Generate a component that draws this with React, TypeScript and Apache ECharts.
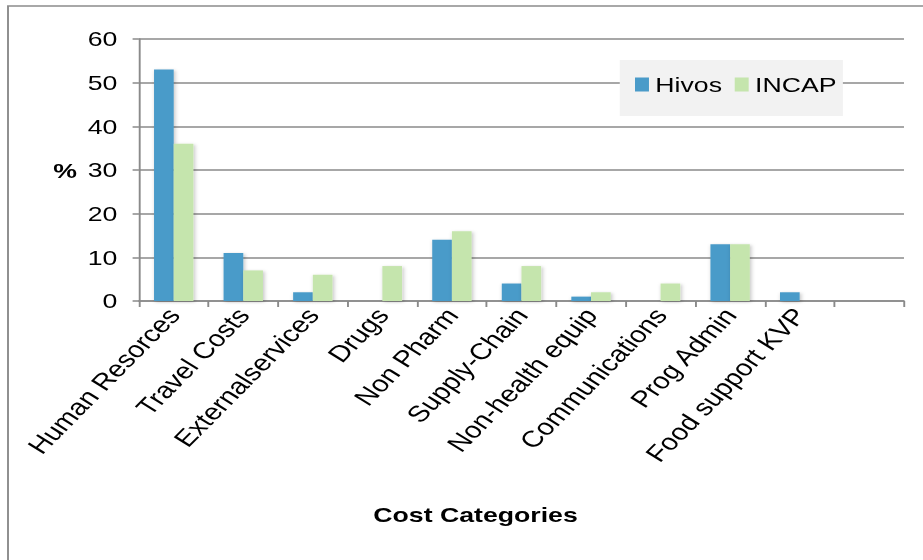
import React, { useEffect, useRef } from "react";
import * as echarts from "echarts";

const categories = [
  "Human Resorces",
  "Travel Costs",
  "Externalservices",
  "Drugs",
  "Non Pharm",
  "Supply-Chain",
  "Non-health equip",
  "Communications",
  "Prog Admin",
  "Food support KVP",
  "",
];
const hivos = [53, 11, 2, 0, 14, 4, 1, 0, 13, 2, null];
const incap = [36, 7, 6, 8, 16, 8, 2, 4, 13, 0, null];
const yTicks = { min: 0, max: 60, interval: 10 };

const FONT = "'Liberation Sans', Arial, sans-serif";
const AXIS_GRAY = "#8a8a8a";

// The figure is laid out on a narrower canvas and widened horizontally,
// giving the broad lettering of the exported figure.
const STRETCH = 1.27;
const PAGE_W = 923;
const PAGE_H = 560;
const INNER_W = Math.round(PAGE_W / STRETCH);
// rotation that ends up at 45 degrees once the canvas is widened
const LABEL_ROTATE = (Math.atan(STRETCH) * 180) / Math.PI;

export default function App() {
  const ref = useRef<HTMLDivElement>(null);

  useEffect(() => {
    if (!ref.current) return;
    const chart = echarts.init(ref.current, null, { renderer: "svg" });
    const barShadow = {
      shadowColor: "rgba(0,0,0,0.25)",
      shadowBlur: 3,
      shadowOffsetX: 1,
      shadowOffsetY: 1,
    };
    chart.setOption({
      animation: false,
      backgroundColor: "#ffffff",
      textStyle: { fontFamily: FONT },
      grid: { left: 109.4, right: INNER_W - 711.8, top: 39, bottom: 259, containLabel: false },
      legend: {
        left: 488,
        top: 60,
        padding: [14, 5, 21, 12],
        backgroundColor: "#f2f2f2",
        itemWidth: 11,
        itemHeight: 14,
        itemGap: 10,
        icon: "rect",
        textStyle: { fontFamily: FONT, fontSize: 21, color: "#000" },
        data: ["Hivos", "INCAP"],
      },
      xAxis: {
        type: "category",
        data: categories,
        axisLine: { lineStyle: { color: AXIS_GRAY, width: 1.5 } },
        axisTick: { show: true, length: 6, lineStyle: { color: AXIS_GRAY, width: 1.5 } },
        axisLabel: {
          rotate: LABEL_ROTATE,
          interval: 0,
          margin: 10,
          fontFamily: FONT,
          fontSize: 23,
          color: "#000",
        },
      },
      yAxis: {
        type: "value",
        min: yTicks.min,
        max: yTicks.max,
        interval: yTicks.interval,
        axisLine: { show: true, lineStyle: { color: AXIS_GRAY, width: 1.5 } },
        axisTick: { show: true, length: 5, lineStyle: { color: AXIS_GRAY, width: 1.5 } },
        splitLine: { lineStyle: { color: AXIS_GRAY, width: 1.5 } },
        axisLabel: { margin: 17, fontFamily: FONT, fontSize: 21, color: "#000" },
      },
      series: [
        {
          name: "Hivos",
          type: "bar",
          data: hivos,
          barWidth: 15.5,
          barGap: "0%",
          itemStyle: { color: "#4a9bc9", ...barShadow },
        },
        {
          name: "INCAP",
          type: "bar",
          data: incap,
          barWidth: 15.5,
          barGap: "0%",
          itemStyle: { color: "#c5e5ad", ...barShadow },
        },
      ],
      graphic: [
        {
          type: "rect",
          silent: true,
          shape: { x: 6.3, y: 6, width: 800, height: 600 },
          style: { fill: "none", stroke: "#8c8c8c", lineWidth: 1.5 },
        },
        {
          type: "text",
          x: 51.2,
          y: 171,
          style: {
            text: "%",
            font: `bold 21px ${FONT}`,
            fill: "#000",
            align: "center",
            verticalAlign: "middle",
          },
        },
        {
          type: "text",
          x: 374.4,
          y: 515,
          style: {
            text: "Cost Categories",
            font: `bold 21px ${FONT}`,
            fill: "#000",
            align: "center",
            verticalAlign: "middle",
          },
        },
      ],
    });
    return () => chart.dispose();
  }, []);

  return (
    <div
      style={{
        position: "absolute",
        left: 0,
        top: 0,
        width: PAGE_W,
        height: PAGE_H,
        overflow: "hidden",
        background: "#fff",
      }}
    >
      <div
        ref={ref}
        style={{
          width: INNER_W,
          height: PAGE_H,
          transform: `scaleX(${STRETCH})`,
          transformOrigin: "0 0",
        }}
      />
    </div>
  );
}
